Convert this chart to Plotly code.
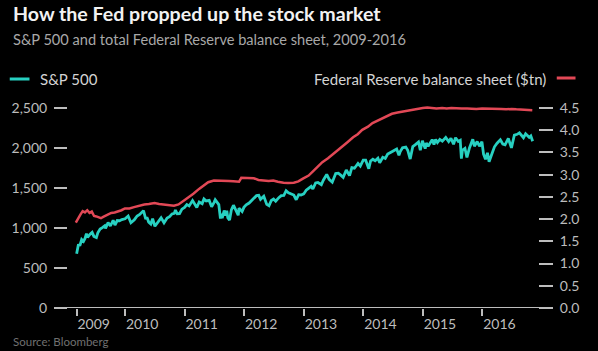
import plotly.graph_objects as go

# ---------------- data ----------------
sp_dates = ["2009-03-09","2009-03-19","2009-03-30","2009-04-09","2009-04-20","2009-04-30","2009-05-08","2009-05-15","2009-05-29","2009-06-12","2009-06-23","2009-07-08","2009-07-17","2009-07-31","2009-08-14","2009-08-28","2009-09-02","2009-09-18","2009-10-02","2009-10-19","2009-10-30","2009-11-13","2009-11-27","2009-12-11","2009-12-31",
"2010-01-19","2010-02-05","2010-02-26","2010-03-15","2010-03-31","2010-04-23","2010-05-07","2010-05-14","2010-05-25","2010-06-07","2010-06-18","2010-07-02","2010-07-16","2010-08-09","2010-08-27","2010-09-15","2010-09-30","2010-10-15","2010-10-29","2010-11-05","2010-11-16","2010-11-30","2010-12-15","2010-12-31",
"2011-01-14","2011-01-28","2011-02-18","2011-03-01","2011-03-16","2011-03-31","2011-04-18","2011-04-29","2011-05-13","2011-05-31","2011-06-15","2011-06-30","2011-07-07","2011-07-29","2011-08-08","2011-08-12","2011-08-19","2011-08-31","2011-09-09","2011-09-16","2011-09-22","2011-10-03","2011-10-14","2011-10-27","2011-11-09","2011-11-25","2011-11-30","2011-12-19","2011-12-30",
"2012-01-13","2012-01-31","2012-02-15","2012-02-29","2012-03-16","2012-03-30","2012-04-10","2012-04-30","2012-05-18","2012-06-01","2012-06-15","2012-06-29","2012-07-12","2012-07-31","2012-08-15","2012-08-31","2012-09-14","2012-09-28","2012-10-15","2012-10-31","2012-11-15","2012-11-30","2012-12-14","2012-12-31",
"2013-01-15","2013-01-31","2013-02-15","2013-02-25","2013-03-14","2013-03-28","2013-04-18","2013-04-30","2013-05-21","2013-06-05","2013-06-24","2013-07-15","2013-07-31","2013-08-15","2013-08-30","2013-09-18","2013-09-30","2013-10-08","2013-10-22","2013-11-07","2013-11-29","2013-12-13","2013-12-31",
"2014-01-15","2014-02-03","2014-02-14","2014-02-28","2014-03-14","2014-03-31","2014-04-11","2014-04-30","2014-05-15","2014-05-30","2014-06-13","2014-06-30","2014-07-24","2014-08-07","2014-08-15","2014-08-29","2014-09-18","2014-09-30","2014-10-15","2014-10-31","2014-11-14","2014-11-28","2014-12-05","2014-12-16","2014-12-29",
"2015-01-15","2015-01-22","2015-02-02","2015-02-27","2015-03-10","2015-03-20","2015-03-31","2015-04-15","2015-04-30","2015-05-21","2015-06-08","2015-06-22","2015-07-08","2015-07-20","2015-08-06","2015-08-18","2015-08-25","2015-08-31","2015-09-16","2015-09-28","2015-10-14","2015-10-30","2015-11-03","2015-11-13","2015-11-30","2015-12-14","2015-12-29",
"2016-01-08","2016-01-20","2016-02-01","2016-02-11","2016-02-29","2016-03-15","2016-03-31","2016-04-20","2016-05-05","2016-05-19","2016-06-08","2016-06-27","2016-07-15","2016-08-01","2016-08-15","2016-09-09","2016-09-22","2016-10-14","2016-10-24","2016-11-04"]
sp_values = [677,785,788,856,833,873,929,882,919,946,895,880,940,987,1005,1028,995,1068,1025,1097,1036,1093,1091,1106,1115,
1150,1066,1104,1150,1169,1217,1110,1136,1074,1050,1117,1022,1065,1127,1065,1125,1141,1176,1183,1225,1178,1180,1236,1258,
1293,1276,1343,1306,1256,1326,1305,1364,1338,1345,1265,1321,1353,1292,1119,1179,1124,1219,1154,1216,1130,1099,1225,1285,1229,1159,1247,1206,1258,
1289,1312,1343,1366,1404,1408,1358,1398,1295,1278,1343,1362,1334,1379,1405,1407,1466,1441,1429,1412,1353,1416,1413,1426,
1472,1498,1520,1488,1563,1569,1541,1598,1669,1609,1573,1682,1686,1661,1633,1725,1682,1656,1754,1747,1806,1775,1848,
1848,1741,1838,1859,1841,1872,1816,1884,1870,1924,1936,1960,1988,1910,1955,2003,2011,1972,1862,2018,2039,2068,2075,1972,2090,
1992,2063,2020,2105,2044,2108,2068,2107,2086,2131,2080,2122,2047,2128,2083,2097,1868,1972,1996,1882,2004,2079,2110,2023,2080,2022,2078,
1922,1859,1940,1829,1932,2015,2060,2102,2050,2040,2119,2001,2162,2171,2190,2128,2177,2133,2151,2085]

fed_dates = ["2009-03-04","2009-03-18","2009-04-01","2009-04-15","2009-04-29","2009-05-13","2009-05-27","2009-06-10","2009-06-24","2009-07-08","2009-07-22","2009-08-05","2009-08-19","2009-09-02","2009-09-16","2009-10-07","2009-10-28","2009-11-18","2009-12-09","2009-12-30",
"2010-01-27","2010-02-24","2010-03-31","2010-04-28","2010-05-26","2010-06-30","2010-07-28","2010-08-25","2010-09-29","2010-10-27","2010-11-24","2010-12-29",
"2011-01-26","2011-02-23","2011-03-30","2011-04-27","2011-05-25","2011-06-29","2011-07-27","2011-08-31","2011-09-28","2011-10-26","2011-11-30","2011-12-14","2011-12-28",
"2012-01-25","2012-02-29","2012-03-28","2012-04-25","2012-05-30","2012-06-27","2012-07-25","2012-08-29","2012-09-26","2012-10-31","2012-11-28","2012-12-26",
"2013-01-30","2013-02-27","2013-03-27","2013-04-24","2013-05-29","2013-06-26","2013-07-31","2013-08-28","2013-09-25","2013-10-30","2013-11-27","2013-12-25",
"2014-01-29","2014-02-26","2014-03-26","2014-04-30","2014-05-28","2014-06-25","2014-07-30","2014-08-27","2014-09-24","2014-10-29","2014-11-26","2014-12-31",
"2015-01-28","2015-02-25","2015-03-25","2015-04-29","2015-05-27","2015-06-24","2015-07-29","2015-08-26","2015-09-30","2015-10-28","2015-11-25","2015-12-30",
"2016-01-27","2016-02-24","2016-03-30","2016-04-27","2016-05-25","2016-06-29","2016-07-27","2016-08-31","2016-09-28","2016-10-26","2016-11-02"]
fed_values = [1.92,2.02,2.10,2.18,2.15,2.20,2.14,2.17,2.07,2.06,2.04,2.02,2.05,2.08,2.10,2.14,2.15,2.17,2.20,2.24,
2.24,2.27,2.31,2.33,2.34,2.36,2.34,2.33,2.31,2.30,2.33,2.42,
2.48,2.57,2.68,2.75,2.83,2.87,2.87,2.87,2.86,2.85,2.84,2.93,2.93,
2.92,2.92,2.88,2.87,2.86,2.87,2.84,2.82,2.81,2.82,2.85,2.91,
2.98,3.08,3.18,3.28,3.37,3.46,3.57,3.65,3.73,3.84,3.91,4.01,
4.08,4.16,4.21,4.28,4.33,4.37,4.40,4.42,4.44,4.47,4.49,4.50,
4.51,4.50,4.49,4.50,4.49,4.50,4.49,4.49,4.49,4.48,4.48,4.49,
4.49,4.49,4.48,4.48,4.47,4.48,4.47,4.46,4.46,4.45,4.45]

x_tickvals = ["2009-03-09","2010-01-01","2011-01-01","2012-01-01","2013-01-01","2014-01-01","2015-01-01","2016-01-01"]
x_ticktext = ["2009","2010","2011","2012","2013","2014","2015","2016"]
left_ticks = [0, 500, 1000, 1500, 2000, 2500]
right_ticks = [0.0, 0.5, 1.0, 1.5, 2.0, 2.5, 3.0, 3.5, 4.0, 4.5]

# ---------------- style ----------------
TEAL = "#27d0c1"
RED = "#e24856"
GREY = "#bdbdbd"
FONT = "Lato"
W, H = 598, 351
ML, MR, MT, MB = 62, 60, 100, 43
PW, PH = W - ML - MR, H - MT - MB

def px(x):
    return (x - ML) / PW

def py(y):
    return (H - MB - y) / PH

fig = go.Figure()
fig.add_trace(go.Scatter(x=fed_dates, y=fed_values, yaxis="y2", mode="lines",
                         line=dict(color=RED, width=2.5), name="Federal Reserve balance sheet ($tn)"))
fig.add_trace(go.Scatter(x=sp_dates, y=sp_values, mode="lines",
                         line=dict(color=TEAL, width=2.8), name="S&P 500"))

fig.update_layout(
    width=W, height=H,
    margin=dict(l=ML, r=MR, t=MT, b=MB, pad=0),
    paper_bgcolor="#000000", plot_bgcolor="#000000",
    showlegend=False,
    font=dict(family=FONT, color=GREY, size=14),
    xaxis=dict(type="date", range=["2009-01-15", "2016-12-07"],
               tickvals=x_tickvals, ticktext=x_ticktext,
               ticks="outside", ticklen=7, tickwidth=2, tickcolor=GREY,
               ticklabelshift=17, ticklabelstandoff=-4,
               showgrid=False, zeroline=False, showline=False,
               tickfont=dict(size=14, color=GREY, family=FONT)),
    yaxis=dict(range=[0, 2600], tickvals=left_ticks, tickformat=",",
               ticks="outside", ticklen=13, tickwidth=1.5, tickcolor=GREY,
               ticklabelstandoff=4,
               showgrid=False, zeroline=False, showline=False,
               tickfont=dict(size=14, color=GREY, family=FONT)),
    yaxis2=dict(range=[0, 2600 / (2500 / 4.5)], tickvals=right_ticks, tickformat=".1f",
                overlaying="y", side="right",
                ticks="outside", ticklen=14, tickwidth=1.5, tickcolor=GREY,
                ticklabelstandoff=4,
                showgrid=False, zeroline=False, showline=False,
                tickfont=dict(size=14, color=GREY, family=FONT)),
)

# baseline axis line extending past plot edges
fig.add_shape(type="line", xref="paper", yref="y", x0=px(50), x1=px(549), y0=0, y1=0,
              line=dict(color=GREY, width=2), layer="below")

# title / subtitle / source
fig.add_annotation(text="<b>How the Fed propped up the stock market</b>", xref="paper", yref="paper",
                   x=px(4), y=py(14), xanchor="left", yanchor="middle", showarrow=False,
                   font=dict(size=19.6, color="#f2f2f2", family=FONT))
fig.add_annotation(text="S&P 500 and total Federal Reserve balance sheet, 2009-2016", xref="paper", yref="paper",
                   x=px(4), y=py(40), xanchor="left", yanchor="middle", showarrow=False,
                   font=dict(size=14.6, color="#a8a8a8", family=FONT))
fig.add_annotation(text="Source: Bloomberg", xref="paper", yref="paper",
                   x=px(4), y=py(341), xanchor="left", yanchor="middle", showarrow=False,
                   font=dict(size=11.5, color="#707070", family=FONT))

# legends
fig.add_shape(type="line", xref="paper", yref="paper", x0=px(3), x1=px(23), y0=py(79), y1=py(79),
              line=dict(color=TEAL, width=3))
fig.add_annotation(text="S&P 500", xref="paper", yref="paper",
                   x=px(32), y=py(79), xanchor="left", yanchor="middle", showarrow=False,
                   font=dict(size=15, color="#d4d4d4", family=FONT))
fig.add_shape(type="line", xref="paper", yref="paper", x0=px(557), x1=px(576), y0=py(78), y1=py(78),
              line=dict(color=RED, width=3))
fig.add_annotation(text="Federal Reserve balance sheet ($tn)", xref="paper", yref="paper",
                   x=px(548), y=py(79), xanchor="right", yanchor="middle", showarrow=False,
                   font=dict(size=15, color="#d4d4d4", family=FONT))

fig.write_html("out.html")
